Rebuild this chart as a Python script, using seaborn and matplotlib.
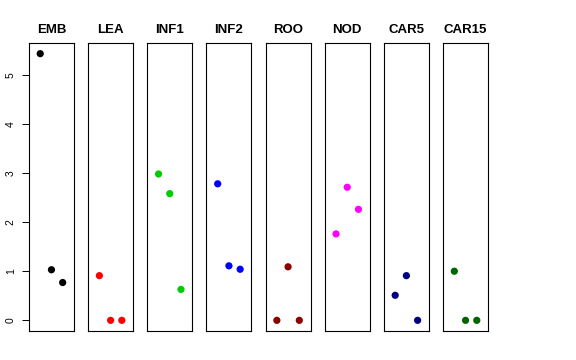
import pandas as pd
import matplotlib.pyplot as plt
import seaborn as sns

sns.set_style("white")
plt.rcParams["font.family"] = ["Liberation Sans", "DejaVu Sans"]

# panel names, colours and the three values in each panel
groups = ["EMB", "LEA", "INF1", "INF2", "ROO", "NOD", "CAR5", "CAR15"]
colors = ["#000000", "#FF0000", "#00CD00", "#0000FF",
          "#8B0000", "#FF00FF", "#000080", "#006400"]
emb = [5.43, 1.03, 0.77]
lea = [0.91, 0.0, 0.0]
inf1 = [2.98, 2.58, 0.63]
inf2 = [2.78, 1.11, 1.04]
roo = [0.0, 1.09, 0.0]
nod = [1.76, 2.71, 2.26]
car5 = [0.51, 0.91, 0.0]
car15 = [1.00, 0.0, 0.0]
positions = [1, 2, 3]

values = [emb, lea, inf1, inf2, roo, nod, car5, car15]
rows = []
for g, vals in zip(groups, values):
    for p, v in zip(positions, vals):
        rows.append({"group": g, "pos": p, "value": v})
data = pd.DataFrame(rows)

fig, axes = plt.subplots(1, 8, figsize=(5.76, 3.6), dpi=100, sharey=True)
fig.subplots_adjust(left=29 / 576, right=488 / 576, bottom=1 - 331 / 360,
                    top=1 - 43 / 360, wspace=0.318)

ymax = data["value"].max()
for i, (ax, g, c) in enumerate(zip(axes, groups, colors)):
    sub = data[data["group"] == g]
    sns.scatterplot(data=sub, x="pos", y="value", color=c, s=27,
                    edgecolor="none", ax=ax, legend=False)
    ax.set_xlim(0, 4)
    ax.set_ylim(-0.04 * ymax, ymax * 1.04)
    ax.set_xticks([])
    ax.set_xlabel("")
    ax.set_ylabel("")
    ax.set_title(g, fontsize=9.5, fontweight="bold", pad=7.5, color="black")
    for s in ax.spines.values():
        s.set_visible(True)
        s.set_color("black")
        s.set_linewidth(0.8)
    if i == 0:
        ax.set_yticks([0, 1, 2, 3, 4, 5])
        ax.tick_params(axis="y", direction="out", length=5, width=0.7,
                       labelsize=7.5, pad=4.5, left=True, color="black",
                       labelcolor="black")
        for lab in ax.get_yticklabels():
            lab.set_rotation(90)
            lab.set_va("center")
    else:
        ax.tick_params(axis="y", left=False, labelleft=False)

plt.savefig("out.png", dpi=100)
